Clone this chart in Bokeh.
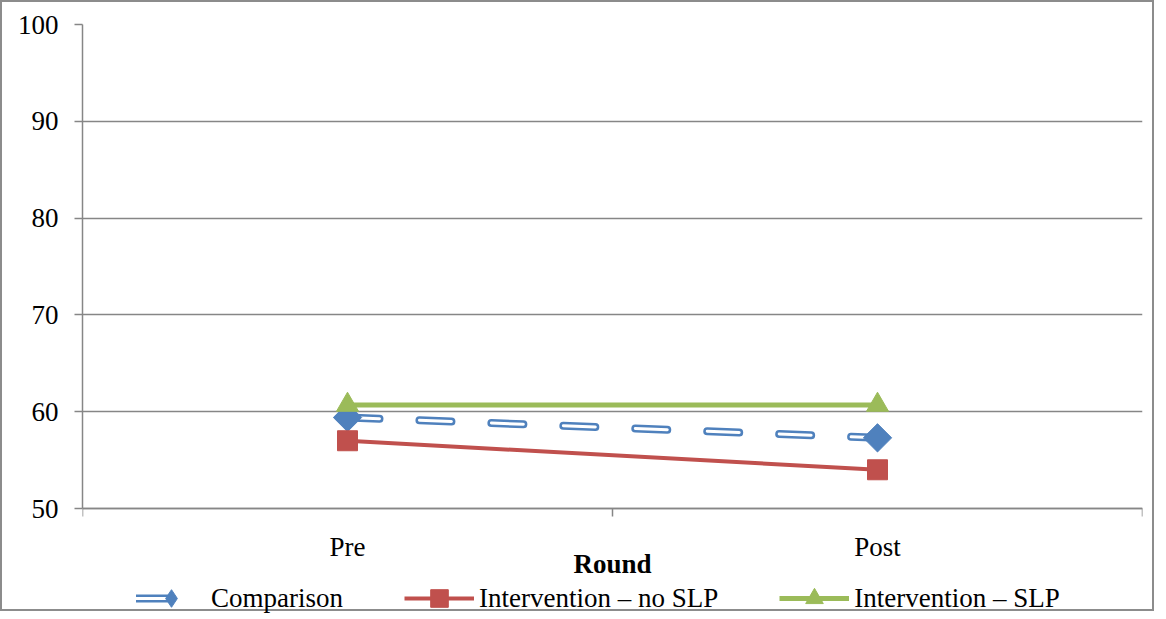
import math
from bokeh.plotting import figure
from bokeh.models import FixedTicker, Legend, LegendItem, Range1d, ColumnDataSource
from bokeh.embed import file_html
from bokeh.resources import INLINE

# ---- data ----
rounds = ["Pre", "Post"]
comparison = [59.4, 57.3]
no_slp = [57.0, 54.0]
slp = [60.7, 60.7]
y_ticks = [50, 60, 70, 80, 90, 100]
series_names = ["Comparison", "Intervention \u2013 no SLP", "Intervention \u2013 SLP"]
axis_title = "Round"

BLUE = "#4F81BD"
RED = "#C0504D"
GREEN = "#9BBB59"
GRAY = "#868686"
FONT = "Liberation Serif"
FS = "27px"

# layout (pixels)
W, H = 1154, 611
TOP, LEFT, RIGHT = 22, 80, 14
PLOT_H = 484           # pixel height of the 50..100 value band
frame_h = H - TOP
y_lo = y_ticks[0] - (frame_h - PLOT_H) / PLOT_H * (y_ticks[-1] - y_ticks[0])

xpos = [i + 0.5 for i in range(len(rounds))]
bounds = [float(i) for i in range(len(rounds) + 1)]
src = ColumnDataSource(dict(x=xpos, comp=comparison, nos=no_slp, s=slp))

p = figure(width=W, height=H, output_backend="svg", toolbar_location=None,
           x_range=Range1d(0, len(rounds)), y_range=Range1d(y_lo, y_ticks[-1]),
           min_border_left=LEFT, min_border_right=RIGHT, min_border_top=TOP, min_border_bottom=0)
p.outline_line_color = None
p.styles = {"border": "2px solid #8C8C8C"}

# comparison: hollow dashed (double) line
bl = p.line("x", "comp", source=src, line_color=BLUE, line_width=8, line_dash="32 40", line_cap="round")
wl = p.line("x", "comp", source=src, line_color="white", line_width=3, line_dash="32 40", line_cap="round")
# narrow diamond (shown in legend), covered on the plot by the wider rotated-square diamond
dl = p.scatter("x", "comp", source=src, marker="diamond", size=27, fill_color=BLUE, line_color=BLUE)
dm = p.scatter("x", "comp", source=src, marker="square", angle=math.pi / 4, size=20,
               fill_color=BLUE, line_color=BLUE)

rl = p.line("x", "nos", source=src, line_color=RED, line_width=4)
rs = p.scatter("x", "nos", source=src, marker="square", size=20, fill_color=RED, line_color=RED)

gl = p.line("x", "s", source=src, line_color=GREEN, line_width=5)
gt = p.scatter("x", "s", source=src, marker="triangle", size=22, fill_color=GREEN, line_color=GREEN)

# x axis drawn at y = 50 inside the frame
p.xaxis.fixed_location = y_ticks[0]
p.xaxis.ticker = FixedTicker(ticks=xpos, minor_ticks=bounds)
p.xaxis.major_label_overrides = {x: r for x, r in zip(xpos, rounds)}
p.xaxis.major_tick_line_color = None
p.xaxis.major_tick_out = 0
p.xaxis.major_tick_in = 0
p.xaxis.minor_tick_out = 8
p.xaxis.minor_tick_in = 0
p.xaxis.minor_tick_line_color = GRAY
p.xaxis.minor_tick_line_width = 1.5
p.xaxis.axis_line_color = GRAY
p.xaxis.axis_line_width = 1.5
p.xaxis.major_label_standoff = 15
p.xaxis.major_label_text_font = FONT
p.xaxis.major_label_text_font_size = FS
p.xaxis.major_label_text_color = "black"
p.xaxis.axis_label = axis_title
p.xaxis.axis_label_text_font = FONT
p.xaxis.axis_label_text_font_style = "bold"
p.xaxis.axis_label_text_font_size = FS
p.xaxis.axis_label_text_color = "black"
p.xaxis.axis_label_standoff = -16

p.yaxis.ticker = FixedTicker(ticks=y_ticks)
p.yaxis.bounds = (y_ticks[0], y_ticks[-1])
p.yaxis.minor_tick_line_color = None
p.yaxis.major_tick_out = 8
p.yaxis.major_tick_in = 0
p.yaxis.major_tick_line_color = GRAY
p.yaxis.major_tick_line_width = 1.5
p.yaxis.axis_line_color = GRAY
p.yaxis.axis_line_width = 1.5
p.yaxis.major_label_standoff = 16
p.yaxis.major_label_text_font = FONT
p.yaxis.major_label_text_font_size = FS
p.yaxis.major_label_text_color = "black"

p.xgrid.grid_line_color = None
p.ygrid.ticker = FixedTicker(ticks=y_ticks)
p.ygrid.grid_line_color = GRAY
p.ygrid.grid_line_width = 1.5

legend = Legend(items=[
    LegendItem(label=series_names[0], renderers=[bl, wl, dl]),
    LegendItem(label=series_names[1], renderers=[rl, rs]),
    LegendItem(label=series_names[2], renderers=[gl, gt]),
], orientation="horizontal", location=(54, -7))
legend.border_line_color = None
legend.background_fill_color = None
legend.background_fill_alpha = 0
legend.label_text_font = FONT
legend.label_text_font_size = FS
legend.label_text_color = "black"
legend.glyph_width = 70
legend.glyph_height = 44
legend.label_height = 28
legend.label_standoff = 5
legend.spacing = 61
legend.margin = 0
legend.padding = 0
p.add_layout(legend, "center")

open("out.html", "w").write(file_html(p, INLINE))
